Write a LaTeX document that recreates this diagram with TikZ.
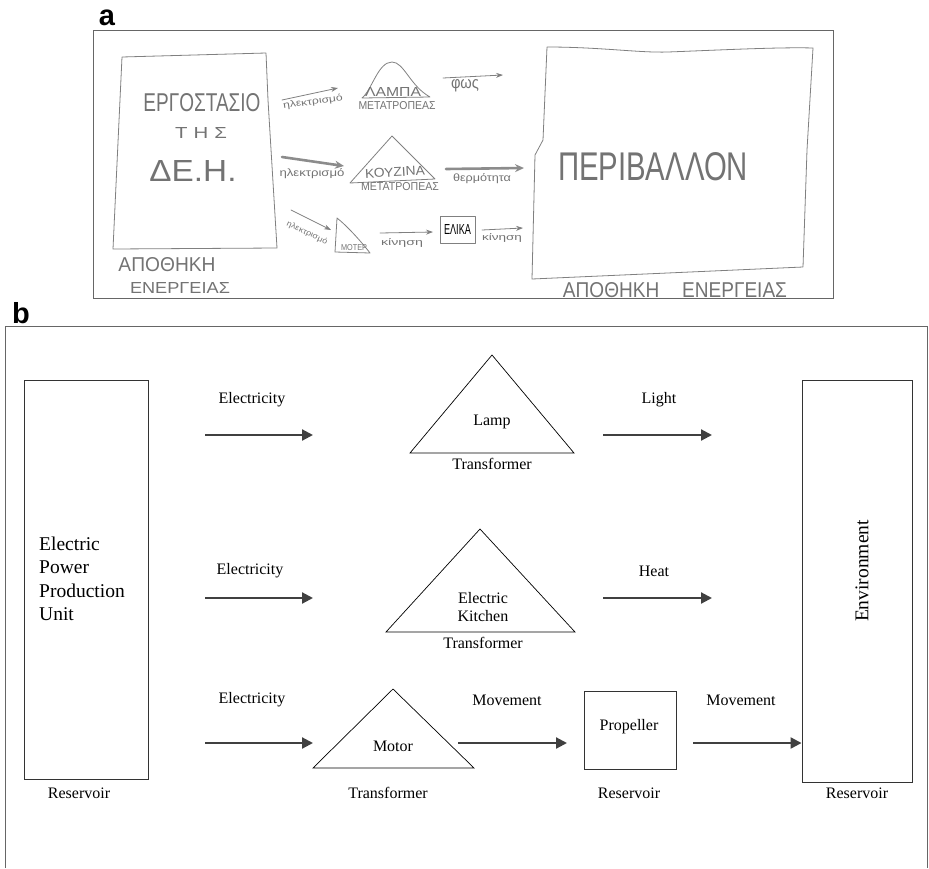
\documentclass[tikz,border=0pt]{standalone}
\usepackage{fontspec}
\usepackage{graphicx}
\setmainfont{Liberation Serif}
\newfontfamily\hand{Liberation Sans}
\newfontfamily\lblfont{Liberation Sans}
\usetikzlibrary{arrows.meta}
\newcommand{\hw}[3]{\resizebox{#1pt}{#2pt}{\hand #3}}
\begin{document}
\begin{tikzpicture}[x=1pt,y=-1pt,
  sm/.style={font=\fontsize{16}{18}\selectfont, inner sep=0pt},
  lg/.style={font=\fontsize{19.5}{23.5}\selectfont, inner sep=0pt},
  box/.style={draw=black!80, line width=0.9pt, inner sep=0pt},
  tri/.style={draw=black, line width=0.7pt, line join=miter},
  flow/.style={draw=black!75, line width=2.2pt, -{Triangle[length=11pt,width=11pt]}},
  frameb/.style={draw=black!60, line width=1pt},
  panel/.style={font=\lblfont\bfseries\fontsize{29}{29}\selectfont, inner sep=0pt, anchor=base},
  ht/.style={inner sep=0pt, text=black!55},
  sk/.style={draw=black!50, line width=0.8pt, line join=round, line cap=round},
  skbox/.style={sk, inner sep=0pt},
  skarrow/.style={sk, -{Stealth[length=7pt,width=5pt]}},
  skthick/.style={draw=black!45, line width=2.6pt, line cap=round, -{Stealth[length=9pt,width=8pt]}}
]
\useasboundingbox (0,0) rectangle (929,868);

% ---------------- panel labels ----------------
\node[panel] (labA) at (107,25) {a};
\node[panel] (labB) at (21,323) {b};

% ---------------- panel a (sketch) ----------------
\draw[draw=black!60, line width=1pt] (93,30) rectangle (833,298);

% left store
\draw[sk] (122,57) -- (266,53) -- (268,100) -- (277,248) -- (113,249) -- cycle;
\node[ht] (aFac) at (202,103) {\hw{117}{18}{ΕΡΓΟΣΤΑΣΙΟ}};
\node[ht] (aTis) at (201,133) {\hw{52}{11}{Τ\kern3pt Η\kern3pt Σ}};
\node[ht] (aDei) at (193,171) {\hw{87}{21}{ΔΕ.Η.}};
\node[ht] (aApo1) at (167,265) {\hw{97}{14}{ΑΠΟΘΗΚΗ}};
\node[ht] (aEn1) at (180,288) {\hw{100}{11}{ΕΝΕΡΓΕΙΑΣ}};

% row 1
\coordinate (r1a) at (282,100); \coordinate (r1b) at (338,88);
\draw[skarrow] (r1a) -- (r1b);
\node[ht, rotate=8] (aEl1) at (313,102) {\hw{60}{7}{ηλεκτρισμό}};
\draw[sk] (362,98) .. controls (372,90) and (378,62) .. (392,62)
          .. controls (404,62) and (410,86) .. (430,97) -- cycle;
\node[ht] (aLamp) at (393,92) {\hw{56}{9}{ΛΑΜΠΑ}};
\node[ht] (aMet1) at (397,106) {\hw{77}{8}{ΜΕΤΑΤΡΟΠΕΑΣ}};
\coordinate (r1c) at (443,78); \coordinate (r1d) at (503,75);
\draw[skarrow] (r1c) -- (r1d);
\node[ht] (aFos) at (465,86) {\hw{28}{9}{φως}};

% row 2
\coordinate (r2a) at (282,157); \coordinate (r2b) at (344,166);
\draw[skthick] (r2a) -- (r2b);
\node[ht] (aEl2) at (312,174) {\hw{65}{8}{ηλεκτρισμό}};
\draw[sk] (350,183) -- (392,136) -- (435,179) -- cycle;
\node[ht, rotate=3] (aKouz) at (395,172) {\hw{60}{9}{ΚΟΥΖΙΝΑ}};
\node[ht] (aMet2) at (400,187) {\hw{78}{8}{ΜΕΤΑΤΡΟΠΕΑΣ}};
\coordinate (r2c) at (446,169); \coordinate (r2d) at (524,168);
\draw[skthick] (r2c) -- (r2d);
\node[ht] (aTherm) at (482,179) {\hw{58}{8}{θερμότητα}};

% row 3
\coordinate (r3a) at (291,210); \coordinate (r3b) at (331,230);
\draw[skarrow] (r3a) -- (r3b);
\node[ht, rotate=-25] (aEl3) at (307,233) {\hw{44}{6}{ηλεκτρισμό}};
\draw[sk] (337,218) -- (335,252) -- (370,253) .. controls (360,240) and (346,225) .. (337,218);
\node[ht] (aMot) at (354,248) {\hw{26}{6}{ΜΟΤΕΡ}};
\coordinate (r3c) at (380,233); \coordinate (r3d) at (433,232);
\draw[skarrow] (r3c) -- (r3d);
\node[ht] (aKin1) at (402,243) {\hw{42}{7}{κίνηση}};
\node[skbox, minimum width=35pt, minimum height=27pt] (aElika) at (457.5,229.5) {\hw{27}{10}{ΕΛΙΚΑ}};
\coordinate (r3e) at (482,230); \coordinate (r3f) at (523,228);
\draw[skarrow] (r3e) -- (r3f);
\node[ht] (aKin2) at (502,238) {\hw{40}{7}{κίνηση}};

% right store
\draw[sk] (547,47) .. controls (600,47) and (640,53) .. (668,52)
          .. controls (720,50) and (780,47) .. (813,48)
          -- (807,150) -- (803,267) -- (532,279) -- (535,155) -- (543,140) -- cycle;
\node[ht] (aPer) at (653,167) {\hw{190}{28}{ΠΕΡΙΒΑΛΛΟΝ}};
\node[ht] (aApo2) at (675,290) {\hw{224}{15}{ΑΠΟΘΗΚΗ\kern12pt ΕΝΕΡΓΕΙΑΣ}};

% ---------------- panel b ----------------
\draw[frameb] (5,868) -- (5,326) -- (927,326) -- (927,868);

% left reservoir
\node[box, minimum width=124pt, minimum height=399pt] (epu) at (86,579.5) {};
\node[lg, align=left, anchor=west] (epuT) at (39,579) {Electric\\Power\\Production\\Unit};
\node[sm] (resL) at (79,793) {Reservoir};

% environment
\node[box, minimum width=110pt, minimum height=402pt] (env) at (857,581) {};
\node[lg, rotate=90] (envT) at (862,571) {Environment};
\node[sm] (resR) at (857,793) {Reservoir};

% row 1
\node[sm] (el1) at (252,400) {Electricity};
\coordinate (e1s) at (205,435); \coordinate (e1e) at (313,435);
\draw[flow] (e1s) -- (e1e);
\coordinate (lampL) at (410,453); \coordinate (lampA) at (492,355); \coordinate (lampR) at (574,453);
\draw[tri] (lampL) -- (lampA) -- (lampR) -- cycle;
\node[sm] (lamp) at (492,422) {Lamp};
\node[sm] (tr1) at (492,464) {Transformer};
\node[sm] (light) at (659,400) {Light};
\coordinate (l1s) at (603,435); \coordinate (l1e) at (712,435);
\draw[flow] (l1s) -- (l1e);

% row 2
\node[sm] (el2) at (250,571) {Electricity};
\coordinate (e2s) at (205,598); \coordinate (e2e) at (313,598);
\draw[flow] (e2s) -- (e2e);
\coordinate (kitL) at (386,632); \coordinate (kitA) at (480,529); \coordinate (kitR) at (575,632);
\draw[tri] (kitL) -- (kitA) -- (kitR) -- cycle;
\node[sm, align=center] (kitchen) at (483,607) {Electric\\Kitchen};
\node[sm] (tr2) at (483,643) {Transformer};
\node[sm] (heat) at (654,571) {Heat};
\coordinate (h2s) at (603,598); \coordinate (h2e) at (712,598);
\draw[flow] (h2s) -- (h2e);

% row 3
\node[sm] (el3) at (252,700) {Electricity};
\coordinate (e3s) at (205,743); \coordinate (e3e) at (313,743);
\draw[flow] (e3s) -- (e3e);
\coordinate (motL) at (313,768); \coordinate (motA) at (393,689); \coordinate (motR) at (474,768);
\draw[tri] (motL) -- (motA) -- (motR) -- cycle;
\node[sm] (motor) at (393,746) {Motor};
\node[sm] (tr3) at (388,793) {Transformer};
\node[sm] (mov1) at (507,700) {Movement};
\coordinate (m1s) at (458,743); \coordinate (m1e) at (567,743);
\draw[flow] (m1s) -- (m1e);
\node[box, minimum width=92pt, minimum height=78pt] (prop) at (630,730) {};
\node[sm] (propT) at (629,727) {Propeller};
\node[sm] (resP) at (629,793) {Reservoir};
\node[sm] (mov2) at (741,700) {Movement};
\coordinate (m2s) at (693,743);
\draw[flow] (m2s) -- (m2s -| env.west);
\end{tikzpicture}
\end{document}
